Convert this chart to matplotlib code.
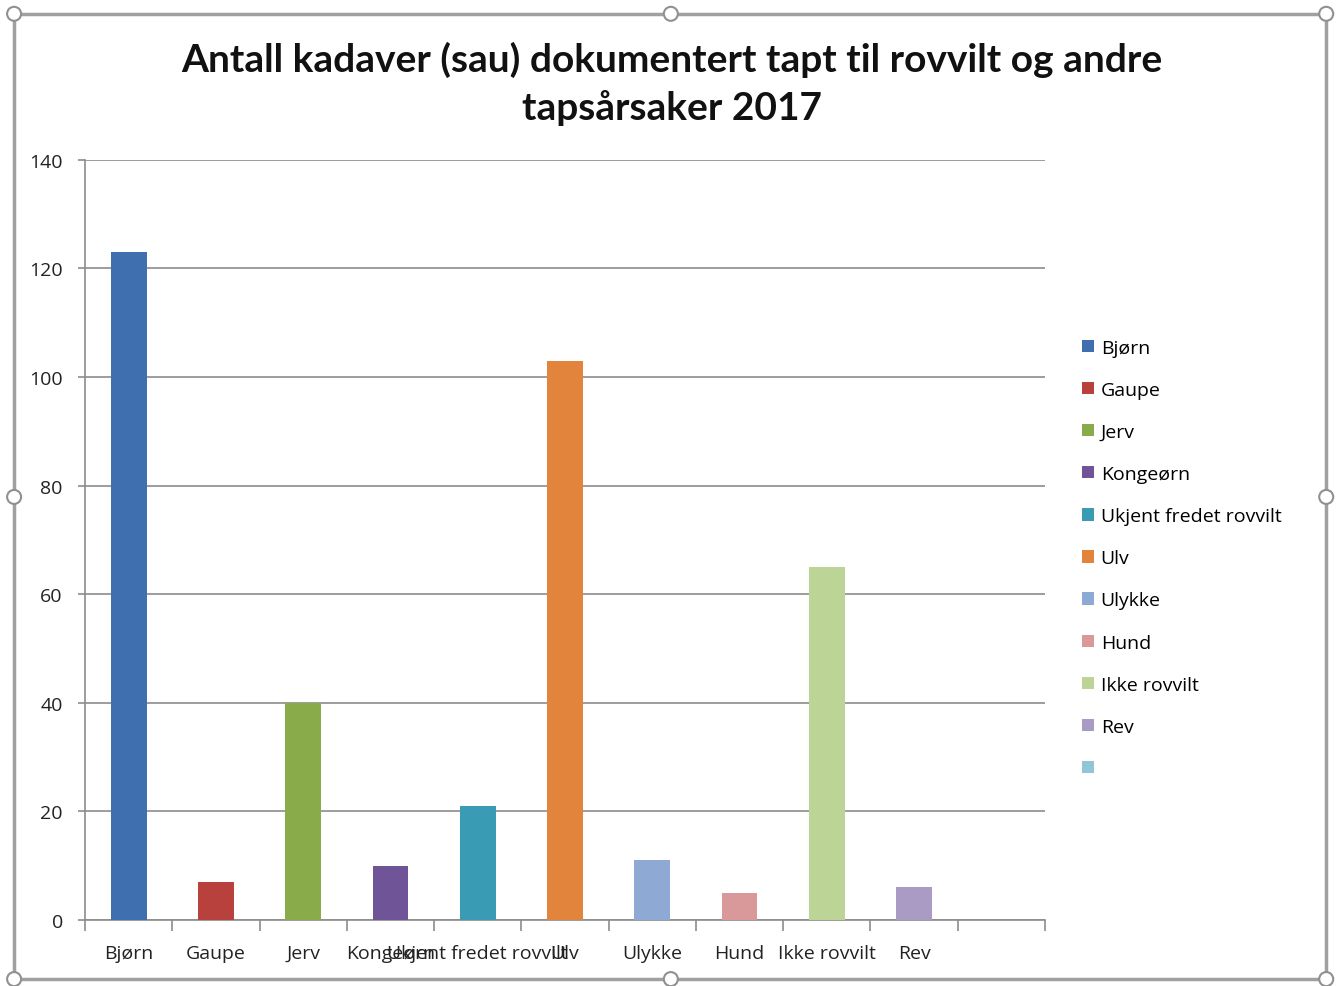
import matplotlib
matplotlib.use("Agg")
import matplotlib.pyplot as plt
import numpy as np
from matplotlib.patches import Rectangle, Circle

# data
categories = ["Bjørn", "Gaupe", "Jerv", "Kongeørn", "Ukjent fredet rovvilt",
              "Ulv", "Ulykke", "Hund", "Ikke rovvilt", "Rev", ""]
values = [123, 7, 40, 10, 21, 103, 11, 5, 65, 6, np.nan]
colors = ["#3f6fae", "#b8403d", "#8aab4a", "#6f5497", "#3a9bb5",
          "#e2843c", "#8eaad4", "#d9989a", "#bcd495", "#a99bc4", "#92c5d6"]
yticks = [0, 20, 40, 60, 80, 100, 120, 140]

fig = plt.figure(figsize=(13.43, 9.87), dpi=100)
ax = fig.add_axes([0.0633, 0.0669, 0.7148, 0.7701])

x = np.arange(len(categories))
bars = ax.bar(x, values, width=0.41, color=colors, zorder=3)

ax.set_xlim(-0.5, len(categories) - 0.5)
ax.set_ylim(0, 140)
ax.set_yticks(yticks)
ax.yaxis.grid(True, color="#8c8c8c", linewidth=1.2, zorder=0)
ax.set_axisbelow(True)

ax.set_xticks(x)
ax.set_xticklabels(categories, fontsize=14, fontfamily="Open Sans", color="#222222")
ax.set_xticks(np.arange(-0.5, len(categories)), minor=True)
ax.tick_params(axis="x", which="major", length=0, pad=17)
ax.tick_params(axis="x", which="minor", length=8, color="#8c8c8c", width=1.2)
ax.tick_params(axis="y", length=5, color="#8c8c8c", width=1.2, labelsize=14, pad=11,
               labelcolor="#222222")
for lab in ax.get_yticklabels():
    lab.set_fontfamily("Open Sans")

for side in ["top", "right"]:
    ax.spines[side].set_visible(False)
for side in ["left", "bottom"]:
    ax.spines[side].set_color("#8c8c8c")
    ax.spines[side].set_linewidth(1.2)

fig.text(0.5, 0.915, "Antall kadaver (sau) dokumentert tapt til rovvilt og andre\ntapsårsaker 2017",
         ha="center", va="center", fontsize=28, fontweight="bold", fontfamily="Lato",
         linespacing=1.38, color="#111111")

leg = fig.legend(bars, categories, loc="upper left", bbox_to_anchor=(0.8, 0.6636),
                 frameon=False, prop={"family": "Open Sans", "size": 14},
                 handlelength=0.6, handleheight=0.6, handletextpad=0.35,
                 labelspacing=1.24, borderaxespad=0)

# chart frame with resize handles
frame = Rectangle((0.0105, 0.007), 0.977, 0.978, transform=fig.transFigure,
                  fill=False, edgecolor="#a0a0a0", linewidth=2.5)
fig.patches.append(frame)
for hx in [0.0105, 0.4995, 0.9875]:
    for hy in [0.007, 0.4955, 0.985]:
        if hx == 0.4995 and hy == 0.4955:
            continue
        fig.patches.append(Circle((hx * 1343, hy * 987), 7, transform=None,
                                  facecolor="white", edgecolor="#909090", linewidth=1.5,
                                  zorder=10))

fig.savefig("out.png", dpi=100)
